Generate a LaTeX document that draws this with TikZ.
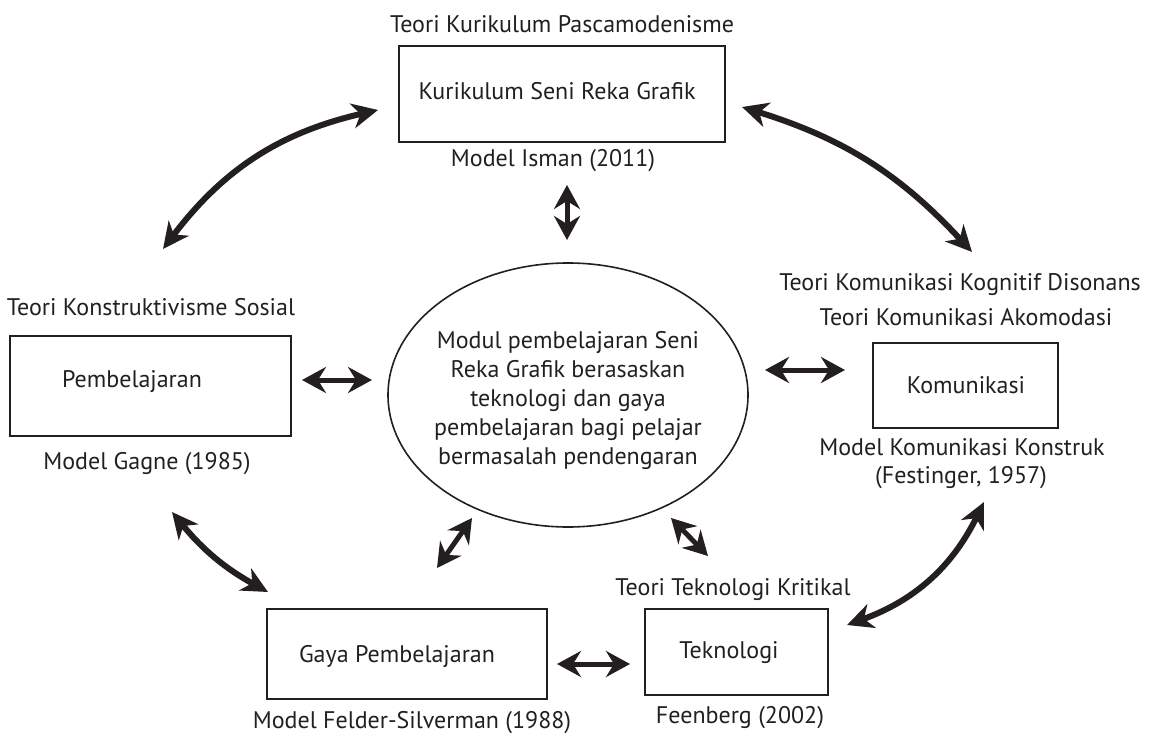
\documentclass[tikz,border=0pt]{standalone}
\usepackage{fontspec}
\setmainfont{PT Sans}
\usetikzlibrary{arrows.meta,shapes.geometric}

\definecolor{ink}{RGB}{35,31,32}

\tikzset{
  lbl/.style={anchor=base, inner sep=0pt, text=ink, font=\fontsize{24}{29}\selectfont},
  box/.style={draw=ink, line width=1.8pt, inner sep=0pt, minimum width=#1},
  boxh/.style={minimum height=#1},
  biarrow/.style={{Stealth[length=24pt,width=26pt,inset=8pt]}-{Stealth[length=24pt,width=26pt,inset=8pt]}, line width=5pt, draw=ink},
  bigarrow/.style={{Stealth[length=26pt,width=25pt,inset=8pt]}-{Stealth[length=26pt,width=25pt,inset=8pt]}, line width=6pt, draw=ink},
}

\begin{document}
\begin{tikzpicture}[x=1pt,y=-1pt]
\useasboundingbox (0,0) rectangle (1157,733);

% boxes
\node[box=326, boxh=96] (kur) at (562,94) {};
\node[box=281, boxh=100] (pemb) at (150.5,386) {};
\node[box=185, boxh=85] (kom) at (965.5,385.5) {};
\node[box=280, boxh=90] (gaya) at (407,654) {};
\node[box=183, boxh=86] (tek) at (736.5,652) {};
\node[draw=ink, line width=1.6pt, ellipse, minimum width=360, minimum height=264, inner sep=0pt] (mod) at (568,395) {};

% texts inside the shapes
\node[lbl] (kurT) at (557,100) {Kurikulum Seni Reka Grafik};
\node[lbl] (pembT) at (132,387) {Pembelajaran};
\node[lbl] (komT) at (966,393) {Komunikasi};
\node[lbl] (gayaT) at (397,662) {Gaya Pembelajaran};
\node[lbl] (tekT) at (729,658) {Teknologi};
\node[anchor=center, inner sep=0pt, text=ink, align=center,
      font=\fontsize{24}{29}\selectfont] (modT) at (568,400)
  {Modul pembelajaran Seni\\Reka Grafik berasaskan\\teknologi dan gaya\\pembelajaran bagi pelajar\\bermasalah pendengaran};

% theory and model labels
\node[lbl] (kurA) at (562,33) {Teori Kurikulum Pascamodenisme};
\node[lbl] (kurB) at (553,167) {Model Isman (2011)};
\node[lbl] (pembA) at (151,315) {Teori Konstruktivisme Sosial};
\node[lbl] (pembB) at (147,469) {Model Gagne (1985)};
\node[lbl] (komA) at (960,290) {Teori Komunikasi Kognitif Disonans};
\node[lbl] (komB) at (966,325) {Teori Komunikasi Akomodasi};
\node[lbl] (komC) at (962,455) {Model Komunikasi Konstruk};
\node[lbl] (komD) at (961,483) {(Festinger, 1957)};
\node[lbl] (gayaB) at (412,728) {Model Felder-Silverman (1988)};
\node[lbl] (tekA) at (733,595) {Teori Teknologi Kritikal};
\node[lbl] (tekB) at (740,723) {Feenberg (2002)};

% arrow end points
\coordinate (kurL) at (378,110);
\coordinate (pembU) at (163,249);
\coordinate (kurR) at (742,107);
\coordinate (komU) at (972,252);
\coordinate (kurD) at (567,185);
\coordinate (modU) at (567,240);
\coordinate (pembR) at (302,380);
\coordinate (modL) at (372,380);
\coordinate (modR) at (765,370);
\coordinate (komL) at (845,370);
\coordinate (pembD) at (172,512);
\coordinate (gayaU) at (268,592);
\coordinate (modDL) at (472,518);
\coordinate (gayaUR) at (437,568);
\coordinate (modDR) at (671,518);
\coordinate (tekU) at (708,556);
\coordinate (gayaR) at (557,664);
\coordinate (tekL) at (630,664);
\coordinate (tekR) at (847,625);
\coordinate (komD2) at (984,502);

% connectors
\draw[bigarrow] (kurL) to[bend right=20] (pembU);
\draw[bigarrow] (kurR) to[bend left=15] (komU);
\draw[bigarrow] (tekR) to[bend right=22] (komD2);
\draw[bigarrow] (pembD) to[bend right=11] (gayaU);
\draw[biarrow] (kurD) -- (modU);
\draw[biarrow] (pembR) -- (modL);
\draw[biarrow] (modR) -- (komL);
\draw[biarrow] (modDL) -- (gayaUR);
\draw[biarrow] (modDR) -- (tekU);
\draw[biarrow] (gayaR) -- (tekL);
\end{tikzpicture}
\end{document}
